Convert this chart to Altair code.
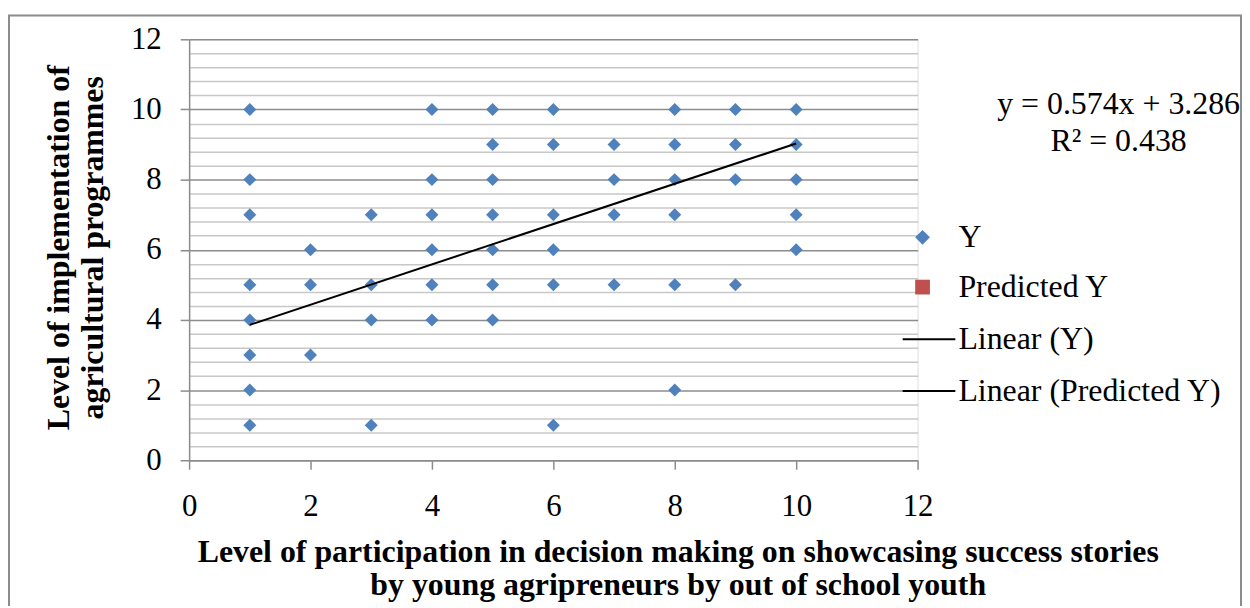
import altair as alt
import pandas as pd

# ---- data ----
point_x = [1, 1, 1, 1, 1, 1, 1, 1,
           2, 2, 2,
           3, 3, 3, 3,
           4, 4, 4, 4, 4, 4,
           5, 5, 5, 5, 5, 5, 5,
           6, 6, 6, 6, 6, 6,
           7, 7, 7, 7,
           8, 8, 8, 8, 8, 8,
           9, 9, 9, 9,
           10, 10, 10, 10, 10]
point_y = [10, 8, 7, 5, 4, 3, 2, 1,
           6, 5, 3,
           7, 5, 4, 1,
           10, 8, 7, 6, 5, 4,
           10, 9, 8, 7, 6, 5, 4,
           10, 9, 7, 6, 5, 1,
           9, 8, 7, 5,
           10, 9, 8, 7, 5, 2,
           10, 9, 8, 5,
           10, 9, 8, 7, 6]
trend_x = [1, 10]
trend_y = [3.86, 9.03]

point_series = ["Y", "Predicted Y"]
point_colors = ["#4F81BD", "#C0504D"]
point_shapes = ["diamond", "square"]
line_series = ["Linear (Y)", "Linear (Predicted Y)"]
line_colors = ["#000000", "#000000"]

equation_lines = ["y = 0.574x + 3.286", "R\u00b2 = 0.438"]
x_ticks = [0, 2, 4, 6, 8, 10, 12]
y_grid_values = [round(i * 0.4, 1) for i in range(31)]

x_title = ["Level of participation in decision making on showcasing success stories",
           "by young agripreneurs by out of school youth"]
y_title = ["Level of implementation of", "agricultural programmes"]

# ---- layout ----
W, H = 732, 423
FONT = "Liberation Serif"
FS = 31      # tick labels
FS2 = 32     # titles, legend, equation
MAJOR = "#8C8C8C"
MINOR = "#C8C8C8"

points = pd.DataFrame({"x": point_x, "y": point_y, "series": ["Y"] * len(point_x)})
trend = pd.DataFrame({"x": trend_x, "y": trend_y, "trend": ["Linear (Y)"] * len(trend_x)})
one = pd.DataFrame({"k": [0]})

xscale = alt.Scale(domain=[0, 12], nice=False, zero=False)
yscale = alt.Scale(domain=[0, 12], nice=False, zero=False)

x_axis = alt.Axis(
    values=x_ticks, grid=False, title=x_title,
    titleFont=FONT, titleFontSize=FS2, titleFontWeight="bold", titleColor="black",
    titleX=491, titleY=102, titleBaseline="alphabetic", titleAlign="center",
    titleAnchor="start", titleLineHeight=33,
    labelFont=FONT, labelFontSize=FS, labelColor="black", labelPadding=23,
    labelFlush=False, labelOverlap=False,
    tickSize=9, tickColor=MAJOR, tickWidth=1.5,
    domainColor=MAJOR, domainWidth=1.5,
)
y_axis = alt.Axis(
    values=y_grid_values, grid=True,
    gridColor={"condition": {"test": "datum.value % 2 === 0", "value": MAJOR}, "value": MINOR},
    gridWidth=1.5,
    tickColor={"condition": {"test": "datum.value % 2 === 0", "value": MAJOR}, "value": "transparent"},
    tickSize=9, tickWidth=1.5,
    labelExpr="datum.value % 2 === 0 ? format(datum.value, 'd') : ''",
    labelFont=FONT, labelFontSize=FS, labelColor="black", labelPadding=19,
    labelFlush=False, labelOverlap=False,
    domainColor=MAJOR, domainWidth=1.5,
    title=y_title, titleFont=FONT, titleFontSize=FS2, titleFontWeight="bold", titleColor="black",
    titleX=-121, titleY=209, titleBaseline="alphabetic", titleAlign="center",
    titleAnchor="start", titleAngle=270, titleLineHeight=34,
)

X = alt.X("x:Q", scale=xscale, axis=x_axis)
Y = alt.Y("y:Q", scale=yscale, axis=y_axis)

legend_pts = alt.Legend(
    title=None, orient="none", legendX=721, legendY=183, padding=0,
    labelFont=FONT, labelFontSize=FS2, labelColor="black", labelOffset=20,
    rowPadding=18, labelLimit=400, symbolSize=220, symbolOpacity=1,
    symbolStrokeWidth=0,
)
legend_line = alt.Legend(
    title=None, orient="none", legendX=716, legendY=274, padding=0,
    labelFont=FONT, labelFontSize=FS2, labelColor="black", labelOffset=2,
    rowPadding=8, labelLimit=400, symbolType="stroke", symbolSize=2800,
    symbolStrokeWidth=2, symbolOpacity=1,
)

frame = alt.Chart(one).mark_rect(
    fill="transparent", stroke=MAJOR, strokeWidth=2
).encode(
    x=alt.value(-181), x2=alt.value(1057), y=alt.value(-24), y2=alt.value(700)
)

pts = alt.Chart(points).mark_point(filled=True, opacity=1, size=170).encode(
    x=X, y=Y,
    color=alt.Color("series:N", scale=alt.Scale(domain=point_series, range=point_colors), legend=legend_pts),
    shape=alt.Shape("series:N", scale=alt.Scale(domain=point_series, range=point_shapes), legend=legend_pts),
)

line = alt.Chart(trend).mark_line(strokeWidth=2).encode(
    x=X, y=Y,
    stroke=alt.Stroke("trend:N", scale=alt.Scale(domain=line_series, range=line_colors), legend=legend_line),
)

eq = alt.Chart(one).mark_text(
    text=equation_lines, font=FONT, fontSize=FS2, align="center",
    baseline="alphabetic", lineHeight=37, color="black"
).encode(x=alt.value(934), y=alt.value(75))

chart = alt.layer(frame, pts, line, eq).properties(
    width=W, height=H,
    autosize=alt.AutoSizeParams(type="none"),
    padding={"left": 182, "top": 30, "right": 326, "bottom": 145},
).configure_view(stroke=None).configure(background="white")

chart.save("out.html", embed_options={"renderer": "svg", "actions": False})
